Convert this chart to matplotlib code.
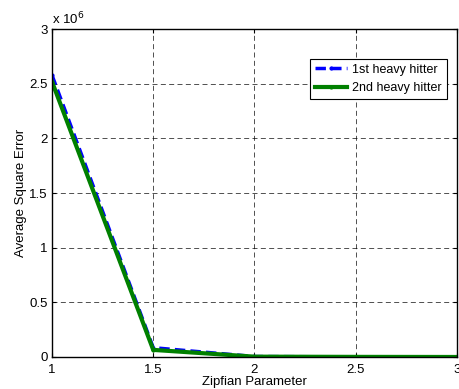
import matplotlib
matplotlib.use('Agg')
import matplotlib.pyplot as plt
import numpy as np

plt.rcParams['font.family'] = ['Liberation Sans', 'DejaVu Sans']

# data (in units of 1e6)
zipf = [1, 1.5, 2, 2.5, 3]
first_hh = [2.58, 0.085, 0.004, 0.001, 0.0]
second_hh = [2.52, 0.065, 0.003, 0.001, 0.0]

fig = plt.figure(figsize=(4.6, 3.89), dpi=100)
ax = fig.add_axes([0.113, 0.0823, 0.8805, 0.8427])

ax.plot(zipf, first_hh, color='blue', linestyle='--', linewidth=2.5,
        marker='.', markersize=4, label='1st heavy hitter', dashes=(3, 1.5))
ax.plot(zipf, second_hh, color='#008000', linestyle='-', linewidth=3,
        marker='.', markersize=4, label='2nd heavy hitter')

ax.set_xlim(1, 3)
ax.set_ylim(0, 3)
ax.set_xticks([1, 1.5, 2, 2.5, 3])
ax.set_xticklabels(['1', '1.5', '2', '2.5', '3'])
ax.set_yticks([0, 0.5, 1, 1.5, 2, 2.5, 3])
ax.set_yticklabels(['0', '0.5', '1', '1.5', '2', '2.5', '3'])
ax.tick_params(direction='in', labelsize=9.5, length=3, top=True, right=True, pad=3)
ax.tick_params(axis='x', pad=5)
ax.grid(True, color='black', linestyle=(0, (6, 4)), linewidth=0.6, alpha=0.8)
for s in ax.spines.values():
    s.set_linewidth(1.0)

ax.set_xlabel('Zipfian Parameter', fontsize=9.5, labelpad=0)
ax.set_ylabel('Average Square Error', fontsize=9.5, labelpad=2)
ax.text(0.0, 1.005, r'x 10$^{6}$', transform=ax.transAxes, fontsize=9.5,
        ha='left', va='bottom')

leg = ax.legend(loc='upper right', bbox_to_anchor=(0.975, 0.91), fontsize=9,
                fancybox=False, edgecolor='black', framealpha=1,
                handlelength=2.6, borderpad=0.4, labelspacing=0.5,
                handletextpad=0.4, borderaxespad=0.0)
leg.get_frame().set_linewidth(0.8)

fig.savefig('out.png', dpi=100)
